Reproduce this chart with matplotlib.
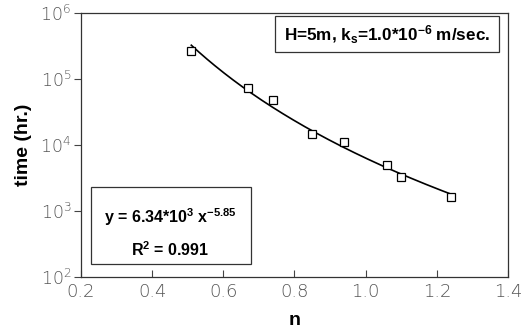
import numpy as np
import matplotlib.pyplot as plt
from matplotlib.ticker import NullLocator, FixedLocator

plt.rcParams['font.family'] = ['Liberation Sans', 'DejaVu Sans']
plt.rcParams['mathtext.fontset'] = 'custom'
plt.rcParams['mathtext.rm'] = 'Liberation Sans'
plt.rcParams['mathtext.default'] = 'regular'
plt.rcParams['axes.unicode_minus'] = False

# measured points
n_obs = [0.51, 0.67, 0.74, 0.85, 0.94, 1.06, 1.10, 1.24]
t_obs = [2.65e5, 7.3e4, 4.8e4, 1.47e4, 1.11e4, 4.98e3, 3.27e3, 1.62e3]

# power-law fit  t = a * n^b
a = 6.34e3
b = -5.85
r2 = 0.991

x_ticks = [0.2, 0.4, 0.6, 0.8, 1.0, 1.2, 1.4]
x_labels = ['0.2', '0.4', '0.6', '0.8', '1.0', '1.2', '1.4']
y_exps = [2, 3, 4, 5, 6]

fig = plt.figure(figsize=(5.21, 3.36), dpi=100)
ax = fig.add_axes([0.1555, 0.1756, 0.8195, 0.7855])

n_fit = np.linspace(min(n_obs), max(n_obs), 200)
ax.plot(n_fit, a * n_fit ** b, color='black', lw=1.2, zorder=2)
ax.plot(n_obs, t_obs, 's', ms=5.5, mfc='white', mec='black', mew=0.9, zorder=3)

ax.set_yscale('log')
ax.set_xlim(0.2, 1.4)
ax.set_ylim(1e2, 1e6)
ax.xaxis.set_major_locator(FixedLocator(x_ticks))
ax.set_xticklabels(x_labels)
ax.yaxis.set_major_locator(FixedLocator([10.0 ** e for e in y_exps]))
ax.yaxis.set_minor_locator(NullLocator())
ax.set_yticklabels(['10$^{%d}$' % e for e in y_exps])

ax.tick_params(axis='x', direction='in', length=5, width=0.8, pad=4,
               labelsize=13, labelcolor='#555555', color='#444444')
ax.tick_params(axis='y', direction='out', length=5, width=0.8, pad=2,
               labelsize=12.5, labelcolor='#555555', color='#444444')
for lbl in ax.get_xticklabels() + ax.get_yticklabels():
    lbl.set_fontfamily('DejaVu Sans')
    lbl.set_fontweight('light')
for s in ax.spines.values():
    s.set_color('#333333')
    s.set_linewidth(0.9)

ax.set_xlabel('n', fontsize=14, fontweight='bold', labelpad=8)
ax.set_ylabel('time (hr.)', fontsize=14, fontweight='bold', labelpad=6)

ax.text(0.717, 0.918, 'H=5m, k$_s$=1.0*10$^{-6}$ m/sec.', transform=ax.transAxes,
        ha='center', va='center', fontsize=12.3, fontweight='bold')
ax.add_patch(plt.Rectangle((0.455, 0.852), 0.525, 0.137, transform=ax.transAxes,
                           fill=False, ec='#333333', lw=0.9))

ax.text(0.209, 0.226, 'y = 6.34*10$^{3}$ x$^{-5.85}$', transform=ax.transAxes,
        ha='center', va='center', fontsize=11.5, fontweight='bold')
ax.text(0.209, 0.105, 'R$^{2}$ = %.3f' % r2, transform=ax.transAxes,
        ha='center', va='center', fontsize=11.5, fontweight='bold')
ax.add_patch(plt.Rectangle((0.024, 0.05), 0.375, 0.29, transform=ax.transAxes,
                           fill=False, ec='#333333', lw=0.9))

fig.savefig('out.png', dpi=100)
